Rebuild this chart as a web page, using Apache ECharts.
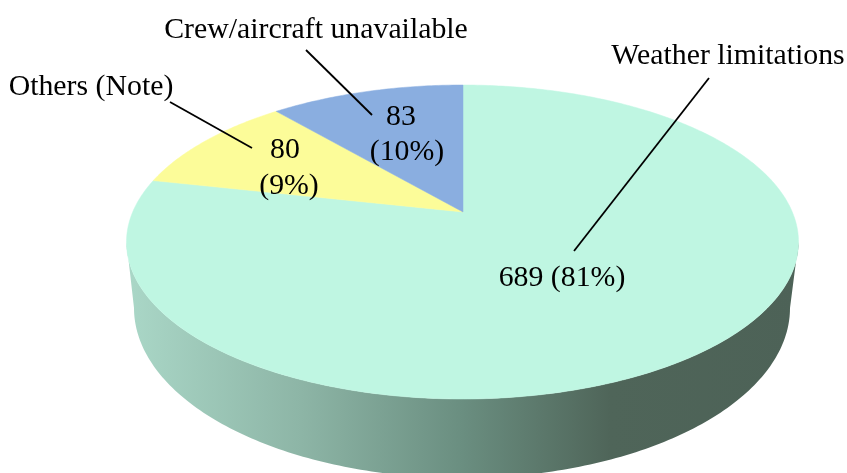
<!DOCTYPE html>
<html>
<head>
<meta charset="utf-8">
<style>html,body{margin:0;padding:0;background:#fff}#c{width:847px;height:473px}</style>
<script src="https://cdn.jsdelivr.net/npm/echarts@6/dist/echarts.min.js"></script>
</head>
<body>
<div id="c"></div>
<script>
// Causes, in drawing order clockwise from twelve o'clock.
const categories = ['Weather limitations', 'Others (Note)', 'Crew/aircraft unavailable'];
const values = [689, 80, 83];
const sliceColors = ['#BFF6E2', '#FCFC99', '#8AAEE0'];

// Tilted disc: upper rim ellipse, lower rim ellipse, and the projected disc centre.
const RIM = { cx: 462.5, cy: 242, rx: 336, ry: 157 };
const BASE = { cx: 462, cy: 308, rx: 328, ry: 170 };
const HUB = { x: 463, y: 212 };
const VIEW_ASPECT = 2.18;   // horizontal over vertical stretch of directions leaving the hub
const VIEW_SKEW = 0.162;    // angular widening of the far side of the tilted disc

// Anchors for the text blocks and the callout lines.
const nameLayout = [
  { x: 728, y: 56, line: [[709, 78], [574, 251]] },
  { x: 91, y: 87, line: [[170, 102], [252, 148]] },
  { x: 316, y: 30, line: [[306, 50], [372, 115]] }
];
const valueLayout = [
  [{ x: 562, y: 278 }],
  [{ x: 285, y: 150 }, { x: 289, y: 186 }],
  [{ x: 401, y: 117 }, { x: 407, y: 152 }]
];

const FONT = '29.8px "Liberation Serif", "Times New Roman", serif';
const total = values.reduce((a, b) => a + b, 0);

// Point on the upper rim for a clockwise angle measured from the top of the disc.
function rimPoint(theta) {
  const t = theta + VIEW_SKEW * Math.sin(theta);
  const dx = VIEW_ASPECT * Math.sin(t), dy = -Math.cos(t);
  const ox = (HUB.x - RIM.cx) / RIM.rx, oy = (HUB.y - RIM.cy) / RIM.ry;
  const ax = dx / RIM.rx, ay = dy / RIM.ry;
  const a = ax * ax + ay * ay, b = 2 * (ox * ax + oy * ay), c = ox * ox + oy * oy - 1;
  const s = (-b + Math.sqrt(b * b - 4 * a * c)) / (2 * a);
  return [HUB.x + s * dx, HUB.y + s * dy];
}

function slicePoints(from, to) {
  const pts = [[HUB.x, HUB.y]];
  const steps = Math.max(8, Math.ceil((to - from) * 90));
  for (let i = 0; i <= steps; i++) pts.push(rimPoint(from + (to - from) * i / steps));
  return pts;
}

// Outer wall: lower half of the upper rim, closed along the lower half of the base rim.
function wallPoints() {
  const pts = [];
  for (let i = 0; i <= 180; i++) {
    const a = Math.PI * i / 180;
    pts.push([RIM.cx + RIM.rx * Math.cos(a), RIM.cy + RIM.ry * Math.sin(a)]);
  }
  for (let i = 180; i >= 0; i--) {
    const a = Math.PI * i / 180;
    pts.push([BASE.cx + BASE.rx * Math.cos(a), BASE.cy + BASE.ry * Math.sin(a)]);
  }
  return pts;
}

const wallShade = new echarts.graphic.LinearGradient(127, 0, 798, 0, [
  { offset: 0, color: '#AAD7C7' },
  { offset: 0.26, color: '#8DB5A6' },
  { offset: 0.5, color: '#6A8E80' },
  { offset: 0.72, color: '#4F6559' },
  { offset: 1, color: '#4D6257' }
], true);

function textEl(x, y, str) {
  return {
    type: 'text', silent: true,
    style: { x, y, text: str, font: FONT, fill: '#000', align: 'center', verticalAlign: 'middle' }
  };
}

const chart = echarts.init(document.getElementById('c'), null, { renderer: 'canvas' });
chart.setOption({
  animation: false,
  backgroundColor: '#fff',
  series: [
    {
      type: 'custom', coordinateSystem: 'none', silent: true, z: 1,
      data: [0],
      renderItem: () => ({
        type: 'polygon',
        shape: { points: wallPoints() },
        style: { fill: wallShade }
      })
    },
    {
      type: 'custom', coordinateSystem: 'none', silent: true, z: 2,
      data: values,
      renderItem: (params) => {
        // The first category occupies everything left over after the smaller wedges,
        // which run counter-clockwise from twelve o'clock.
        const i = params.dataIndex;
        let before = 0;
        for (let k = values.length - 1; k > i; k--) before += values[k];
        const end = -before / total * 2 * Math.PI;
        const start = end - values[i] / total * 2 * Math.PI;
        return {
          type: 'polygon',
          shape: { points: slicePoints(start, end) },
          style: { fill: sliceColors[i], stroke: sliceColors[i], lineWidth: 0.5 }
        };
      }
    },
    {
      type: 'custom', coordinateSystem: 'none', silent: true, z: 3,
      data: values,
      renderItem: (params) => {
        const i = params.dataIndex;
        const v = values[i];
        const pct = Math.round(v / total * 100);
        const spots = valueLayout[i];
        const n = nameLayout[i];
        const children = [
          textEl(n.x, n.y, categories[i]),
          {
            type: 'polyline', silent: true,
            shape: { points: n.line },
            style: { stroke: '#000', lineWidth: 1.8, fill: null }
          }
        ];
        if (spots.length === 1) {
          children.push(textEl(spots[0].x, spots[0].y, v + ' (' + pct + '%)'));
        } else {
          children.push(textEl(spots[0].x, spots[0].y, String(v)));
          children.push(textEl(spots[1].x, spots[1].y, '(' + pct + '%)'));
        }
        return { type: 'group', children };
      }
    }
  ]
});
</script>
</body>
</html>
